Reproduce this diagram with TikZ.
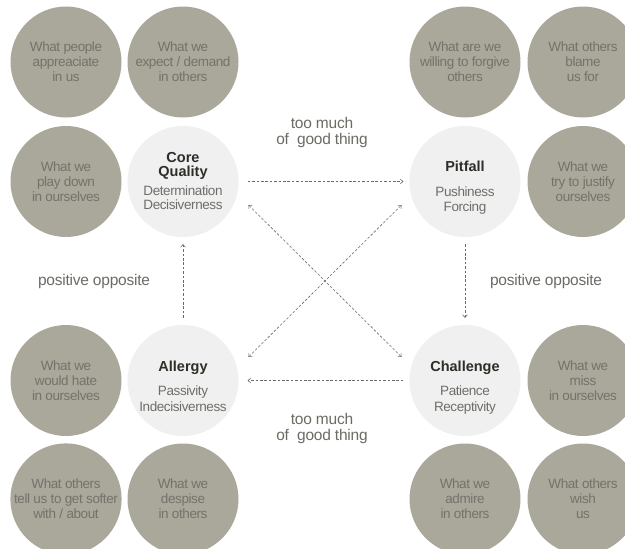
\documentclass[tikz,border=0pt]{standalone}
\usepackage{fontspec}
\setmainfont{Liberation Sans}
\newfontfamily\tightfont{Liberation Sans}[LetterSpace=-3]
\newfontfamily\labfont{Liberation Sans}[LetterSpace=-1.5]
\usetikzlibrary{arrows.meta}
\definecolor{dkc}{HTML}{AAA89B}
\definecolor{dkt}{HTML}{74726A}
\definecolor{ltc}{HTML}{F0F0F0}
\definecolor{ttc}{HTML}{2E2E29}
\definecolor{sbc}{HTML}{6E6E69}
\definecolor{lbc}{HTML}{6C6C66}
\definecolor{arc}{HTML}{6A6A66}
\begin{document}
\begin{tikzpicture}[x=1pt,y=-1pt,
  >={Straight Barb[length=2.6pt,width=5pt]},
  dk/.style={circle,fill=dkc,minimum size=111pt,inner sep=0pt,text=dkt,align=center,
    font=\tightfont\fontsize{13.5}{15}\selectfont},
  lt/.style={circle,fill=ltc,minimum size=111pt,inner sep=0pt},
  ttl/.style={anchor=base,inner sep=0pt,text=ttc,font=\fontsize{14.5}{15}\selectfont\bfseries},
  sub/.style={anchor=base,inner sep=0pt,text=sbc,font=\tightfont\fontsize{13.5}{15}\selectfont},
  lab/.style={text=lbc,align=center,inner sep=0pt,font=\labfont\fontsize{15.5}{16.5}\selectfont},
  con/.style={draw=arc,line width=0.6pt,dash pattern=on 2.6pt off 1.8pt}]
\useasboundingbox (0,0) rectangle (625,549);
\clip (0,0) rectangle (625,549);
\fill[white] (0,0) rectangle (625,549);
% dark circles
\node[dk] (a1) at (66,62) {What people\\appreaciate\\in us};
\node[dk] (a2) at (183,62) {What we\\expect / demand\\in others};
\node[dk] (a3) at (66,181.5) {What we\\play down\\in ourselves};
\node[dk] (b1) at (465,62) {What are we\\willing to forgive\\others};
\node[dk] (b2) at (583,62) {What others\\blame\\us for};
\node[dk] (b3) at (583,181.5) {What we\\try to justify\\ourselves};
\node[dk] (c1) at (66,380.5) {What we\\would hate\\in ourselves};
\node[dk] (c2) at (66,499) {What others\\tell us to get softer\\with / about};
\node[dk] (c3) at (183,499) {What we\\despise\\in others};
\node[dk] (d1) at (583,380.5) {What we\\miss\\in ourselves};
\node[dk] (d2) at (465,499) {What we\\admire\\in others};
\node[dk] (d3) at (583,499) {What others\\wish\\us};
% light circles
\node[lt] (cq) at (183,181.5) {};
\node[lt] (pf) at (465,181.5) {};
\node[lt] (al) at (183,380.5) {};
\node[lt] (ch) at (465,380.5) {};
% light circle texts
\node[ttl] (cqt1) at (183,162.7) {Core};
\node[ttl] (cqt2) at (183,176) {Quality};
\node[sub] (cqs1) at (183,195) {Determination};
\node[sub] (cqs2) at (183,209.3) {Decisiverness};
\node[ttl] (pft) at (465,171) {Pitfall};
\node[sub] (pfs1) at (465,196.2) {Pushiness};
\node[sub] (pfs2) at (465,211.5) {Forcing};
\node[ttl] (alt) at (183,371.5) {Allergy};
\node[sub] (als1) at (183,395.7) {Passivity};
\node[sub] (als2) at (183,411) {Indecisiverness};
\node[ttl] (cht) at (465,371.5) {Challenge};
\node[sub] (chs1) at (465,395.7) {Patience};
\node[sub] (chs2) at (465,411) {Receptivity};
% labels
\node[lab] (tm1) at (322,132.5) {too much\\of \ good thing};
\node[lab] (tm2) at (322,428.5) {too much\\of \ good thing};
\node[lab] (po1) at (94,281) {positive opposite};
\node[lab] (po2) at (546,281) {positive opposite};
% connectors
\draw[con,->] ([xshift=9pt]cq.east) -- ([xshift=-6pt]pf.west);
\draw[con,->] ([xshift=-6pt]ch.west) -- ([xshift=9pt]al.east);
\draw[con,->] ([yshift=7pt]al.north) -- ([yshift=-7pt]cq.south);
\draw[con,->] ([yshift=-7pt]pf.south) -- ([yshift=7pt]ch.north);
\draw[con,<->] ([xshift=15pt]cq.-25) -- ([xshift=-13pt]ch.155);
\draw[con,<->] ([xshift=15pt]al.25) -- ([xshift=-13pt]pf.205);
\end{tikzpicture}
\end{document}
